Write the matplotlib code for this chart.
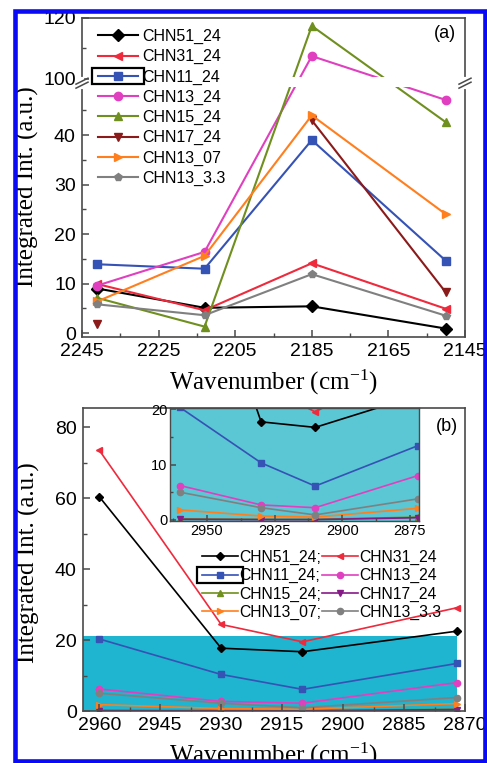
import numpy as np
import matplotlib
matplotlib.use('Agg')
import matplotlib.pyplot as plt
from matplotlib.patches import Rectangle
from matplotlib.ticker import FixedLocator, MultipleLocator, NullFormatter, FuncFormatter

plt.rcParams['font.family'] = ['Liberation Sans', 'DejaVu Sans']
plt.rcParams['mathtext.fontset'] = 'stix'

# ---- data ----
names = ['CHN51_24', 'CHN31_24', 'CHN11_24', 'CHN13_24',
         'CHN15_24', 'CHN17_24', 'CHN13_07', 'CHN13_3.3']

# panel (a): CN stretch region
wn_a = [2241, 2213, 2185, 2150]
a_chn51_24 = [9.0, 5.1, 5.4, 0.9]
a_chn31_24 = [9.9, 4.6, 14.1, 4.9]
a_chn11_24 = [13.9, 13.0, 39.0, 14.6]
a_chn13_24 = [9.6, 16.4, 107.5, 47.1]
a_chn15_24 = [7.1, 1.3, 117.4, 42.6]
a_chn17_24 = [1.8, np.nan, 43.0, 8.2]
a_chn13_07 = [6.4, 15.6, 44.0, 24.0]
a_chn13_3p3 = [5.8, 3.6, 11.9, 3.5]
series_a = [a_chn51_24, a_chn31_24, a_chn11_24, a_chn13_24,
            a_chn15_24, a_chn17_24, a_chn13_07, a_chn13_3p3]

# panel (b): CH stretch region
wn_b = [2960, 2930, 2910, 2872]
b_chn51_24 = [60.4, 17.7, 16.7, 22.5]
b_chn31_24 = [73.5, 24.4, 19.5, 29.1]
b_chn11_24 = [20.3, 10.3, 6.1, 13.4]
b_chn13_24 = [6.2, 2.7, 2.2, 8.0]
b_chn15_24 = [0.2, 0.1, 0.1, 0.5]
b_chn17_24 = [0.1, 0.05, 0.05, 0.4]
b_chn13_07 = [1.8, 0.7, 0.5, 2.1]
b_chn13_3p3 = [5.0, 2.2, 0.9, 3.8]
series_b = [b_chn51_24, b_chn31_24, b_chn11_24, b_chn13_24,
            b_chn15_24, b_chn17_24, b_chn13_07, b_chn13_3p3]

markers_a = ['D', '<', 's', 'o', '^', 'v', '>', 'p']
markers_b = ['D', '<', 's', 'o', '^', 'v', '>', 'o']
colors_a = ['#000000', '#ee2a3c', '#3552b5', '#e040c0',
            '#6f8f1e', '#8b1a1a', '#ff7f1e', '#808080']
colors_b = ['#000000', '#ee2a3c', '#3552b5', '#e040c0',
            '#6f8f1e', '#861a86', '#ff7f1e', '#808080']

zoom_top = 21          # height of the shaded zoom region in (b)
spine_col = '#4a4a4a'
serif = ['Liberation Serif', 'DejaVu Serif']

# broken axis for (a): 0..50.5 linear, gap, 98.7..120 compressed
LOW_TOP, HIGH_BOT, GAP, K = 50.5, 98.7, 0.05, 0.616


def fwd(v):
    v = np.asarray(v, dtype=float)
    mid = LOW_TOP + (v - LOW_TOP) * GAP / (HIGH_BOT - LOW_TOP)
    hi = LOW_TOP + GAP + (v - HIGH_BOT) * K
    return np.where(v <= LOW_TOP, v, np.where(v < HIGH_BOT, mid, hi))


def inv(u):
    u = np.asarray(u, dtype=float)
    mid = LOW_TOP + (u - LOW_TOP) * (HIGH_BOT - LOW_TOP) / GAP
    hi = HIGH_BOT + (u - LOW_TOP - GAP) / K
    return np.where(u <= LOW_TOP, u, np.where(u < LOW_TOP + GAP, mid, hi))


def style_axes(ax, lw=1.2):
    for s in ax.spines.values():
        s.set_color(spine_col)
        s.set_linewidth(lw)
    ax.tick_params(which='both', direction='in', color=spine_col,
                   top=False, right=False)
    ax.tick_params(which='major', length=5, width=1.1)
    ax.tick_params(which='minor', length=3, width=1.0)
    ax.set_axisbelow(False)


def box_handle(fig, leg, idx, h_px):
    fig.canvas.draw()
    r = fig.canvas.get_renderer()
    bb = leg.legend_handles[idx].get_window_extent(r)
    cy = (bb.y0 + bb.y1) / 2
    x0, x1 = bb.x0 - 2, bb.x1 + 2
    W, H = fig.bbox.width, fig.bbox.height
    fig.add_artist(Rectangle((x0 / W, (cy - h_px / 2) / H), (x1 - x0) / W, h_px / H,
                             transform=fig.transFigure, fill=False,
                             edgecolor='black', linewidth=1.6, zorder=8))


fig = plt.figure(figsize=(4.87, 7.63), dpi=100)

# ---------------- panel (a) ----------------
ax = fig.add_axes([82 / 487, 1 - 337 / 763, 383 / 487, 319 / 763])
ax.set_yscale('function', functions=(fwd, inv))
for y, lab, m, c in zip(series_a, names, markers_a, colors_a):
    ax.plot(wn_a, y, marker=m, color=c, lw=1.5, ms=6, label=lab)
ax.set_xlim(2245, 2145)
ax.set_ylim(-0.8, 120)
ax.xaxis.set_major_locator(MultipleLocator(20, offset=5))
ax.xaxis.set_minor_locator(MultipleLocator(10, offset=5))
ax.yaxis.set_major_locator(FixedLocator([0, 10, 20, 30, 40, 100, 120]))
ax.yaxis.set_minor_locator(FixedLocator([5, 15, 25, 35, 45, 110]))
ax.yaxis.set_major_formatter(FuncFormatter(lambda v, p: f'{v:g}'))
ax.yaxis.set_minor_formatter(NullFormatter())
style_axes(ax)
ax.tick_params(axis='x', labelsize=14, pad=4.5)
ax.tick_params(axis='y', labelsize=14, pad=4.5)
ax.axhspan(49.7, 100.6, color='white', zorder=2.2, lw=0)
ax.set_xlabel('Wavenumber (cm$^{\\mathregular{-1}}$)', fontsize=18, family=serif)
ax.set_ylabel('Integrated Int. (a.u.)', fontsize=18, family=serif)
ax.xaxis.set_label_coords(0.5, -0.095)
ax.yaxis.set_label_coords(-0.111, 0.47)
ax.text(0.948, 0.951, '(a)', transform=ax.transAxes, ha='center', va='center', fontsize=13)

# break marks on both spines
yb = ax.transAxes.inverted().transform(ax.transData.transform([[2200, LOW_TOP]]))[0, 1]
dx, dy = 6 / 383, 3 / 319
for xs in (0, 1):
    ax.plot([xs, xs], [yb - 4 / 319, yb + 4 / 319], color='white', lw=3,
            transform=ax.transAxes, clip_on=False, zorder=6)
    for off in (-2 / 319, 2 / 319):
        ax.plot([xs - dx, xs + dx], [yb + off - dy, yb + off + dy], color=spine_col,
                lw=1.1, transform=ax.transAxes, clip_on=False, zorder=7)

leg_a = ax.legend(loc='upper left', bbox_to_anchor=(0.042, 0.9656), frameon=False,
                  fontsize=11.5, handlelength=2.5, handletextpad=0.25,
                  labelspacing=0.32, borderpad=0, borderaxespad=0, numpoints=1)

# ---------------- panel (b) ----------------
bx = fig.add_axes([83 / 487, 1 - 711 / 763, 382 / 487, 303 / 763])
for y, lab, m, c in zip(series_b, names, markers_b, colors_b):
    bx.plot(wn_b, y, marker=m, color=c, lw=1.2, ms=4.5, label=lab)
bx.set_xlim(2964, 2870)
bx.set_ylim(0, 85.4)
x_left = bx.get_xlim()[0]
bx.add_patch(Rectangle((wn_b[-1], 0), x_left - wn_b[-1], zoom_top,
                       facecolor='#1fb4cf', edgecolor='none', zorder=1))
bx.xaxis.set_major_locator(MultipleLocator(15, offset=5))
bx.xaxis.set_minor_locator(MultipleLocator(7.5, offset=5))
bx.yaxis.set_major_locator(MultipleLocator(20))
bx.yaxis.set_minor_locator(MultipleLocator(10))
style_axes(bx)
bx.tick_params(axis='x', labelsize=14, pad=4.5)
bx.tick_params(axis='y', labelsize=14, pad=4.5)
bx.set_xlabel('Wavenumber (cm$^{\\mathregular{-1}}$)', fontsize=18, family=serif)
bx.set_ylabel('Integrated Int. (a.u.)', fontsize=18, family=serif)
bx.xaxis.set_label_coords(0.5, -0.097)
bx.yaxis.set_label_coords(-0.112, 0.49)
bx.text(0.9516, 0.939, '(b)', transform=bx.transAxes, ha='center', va='center', fontsize=13)

order = [0, 2, 4, 6, 1, 3, 5, 7]
hs, ls = bx.get_legend_handles_labels()
leg_b = bx.legend([hs[i] for i in order],
                  [ls[i] + (';' if k < 4 else '') for k, i in enumerate(order)],
                  ncol=2, loc='upper left', bbox_to_anchor=(0.3115, 0.532),
                  frameon=False, fontsize=11.3, handlelength=2.3, handletextpad=0.1,
                  columnspacing=0.0, labelspacing=0.2, borderpad=0, borderaxespad=0,
                  numpoints=1)

# inset
ix = fig.add_axes([170 / 487, 1 - 521 / 763, 249 / 487, 113 / 763])
ix.set_facecolor('#5bc6d4')
for y, m, c in zip(series_b, markers_b, colors_b):
    ix.plot(wn_b, y, marker=m, color=c, lw=1.2, ms=4.5)
ix.set_xlim(2963.7, 2871.6)
ix.set_ylim(-0.2, 20.2)
ix.xaxis.set_major_locator(MultipleLocator(25))
ix.xaxis.set_minor_locator(MultipleLocator(12.5))
ix.yaxis.set_major_locator(MultipleLocator(10))
ix.yaxis.set_minor_locator(MultipleLocator(5))
style_axes(ix, lw=1.0)
ix.tick_params(which='major', length=4)
ix.tick_params(which='minor', length=2)
ix.tick_params(labelsize=10.5, pad=2)

# boxes around the CHN11_24 legend handles
box_handle(fig, leg_a, 2, 16)
box_handle(fig, leg_b, 1, 16)

# blue frame around the figure
fig.add_artist(Rectangle((15 / 487, 1 - 760.5 / 763), 469.5 / 487, 750 / 763,
                         transform=fig.transFigure, fill=False,
                         edgecolor='#0a0af5', linewidth=3.3, zorder=20))

fig.savefig('out.png', dpi=100)
